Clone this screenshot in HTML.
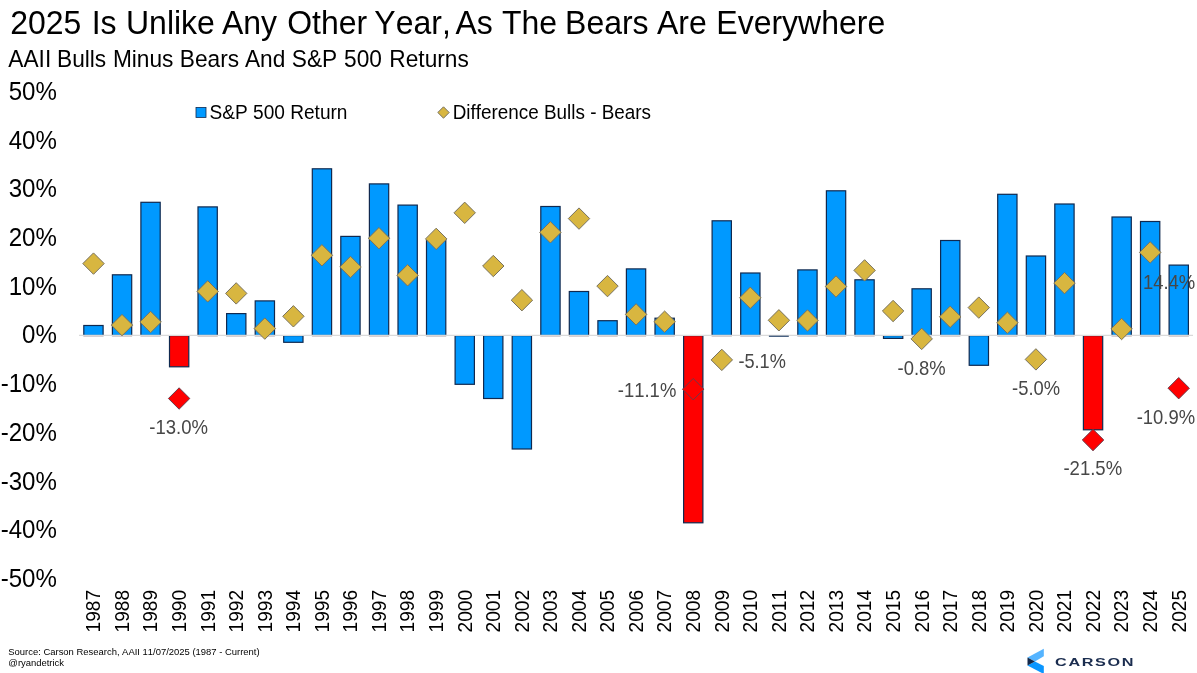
<!DOCTYPE html>
<html><head><meta charset="utf-8"><title>2025 Is Unlike Any Other Year</title>
<style>
html,body{margin:0;padding:0;background:#fff;}
body{width:1197px;height:673px;overflow:hidden;font-family:"Liberation Sans",Arial,sans-serif;}
svg{display:block}
text{font-family:"Liberation Sans",Arial,sans-serif;font-kerning:none;}
.dl{fill:#474747;font-size:20.2px;}
</style></head><body>
<svg width="1197" height="673" viewBox="0 0 1197 673">
<rect width="1197" height="673" fill="#fff"/>
<text transform="translate(0,33.9) scale(1,1.05)" font-size="32.0" fill="#000" style="white-space:pre"><tspan x="10.2" y="0">2025 </tspan><tspan x="91.65" y="0">Is </tspan><tspan x="126.02" y="0">Unlike </tspan><tspan x="221.94" y="0">Any </tspan><tspan x="287.13" y="0">Other </tspan><tspan x="374.33" y="0">Year, </tspan><tspan x="455.39" y="0">As </tspan><tspan x="501.9" y="0">The </tspan><tspan x="565.05" y="0">Bears </tspan><tspan x="657.04" y="0">Are </tspan><tspan x="716.35" y="0">Everywhere</tspan></text>
<text transform="translate(0,66.6) scale(1,1.05)" font-size="22.7" fill="#000" style="white-space:pre"><tspan x="8.34" y="0">AAII </tspan><tspan x="57.0" y="0">Bulls </tspan><tspan x="112.91" y="0">Minus </tspan><tspan x="179.83" y="0">Bears </tspan><tspan x="244.98" y="0">And </tspan><tspan x="291.77" y="0">S&amp;P </tspan><tspan x="344.07" y="0">500 </tspan><tspan x="389.33" y="0">Returns</tspan></text>
<text transform="translate(56.9,99.9) scale(1,1.085)" font-size="24.1" text-anchor="end" fill="#000">50%</text>
<text transform="translate(56.9,148.6) scale(1,1.085)" font-size="24.1" text-anchor="end" fill="#000">40%</text>
<text transform="translate(56.9,197.3) scale(1,1.085)" font-size="24.1" text-anchor="end" fill="#000">30%</text>
<text transform="translate(56.9,246.0) scale(1,1.085)" font-size="24.1" text-anchor="end" fill="#000">20%</text>
<text transform="translate(56.9,294.7) scale(1,1.085)" font-size="24.1" text-anchor="end" fill="#000">10%</text>
<text transform="translate(56.9,343.4) scale(1,1.085)" font-size="24.1" text-anchor="end" fill="#000">0%</text>
<text transform="translate(56.9,392.1) scale(1,1.085)" font-size="24.1" text-anchor="end" fill="#000">-10%</text>
<text transform="translate(56.9,440.8) scale(1,1.085)" font-size="24.1" text-anchor="end" fill="#000">-20%</text>
<text transform="translate(56.9,489.5) scale(1,1.085)" font-size="24.1" text-anchor="end" fill="#000">-30%</text>
<text transform="translate(56.9,538.2) scale(1,1.085)" font-size="24.1" text-anchor="end" fill="#000">-40%</text>
<text transform="translate(56.9,586.9) scale(1,1.085)" font-size="24.1" text-anchor="end" fill="#000">-50%</text>
<rect x="83.8" y="325.5" width="19.3" height="10.0" fill="#0099ff" stroke="#10294f" stroke-width="1.2"/>
<rect x="112.4" y="274.8" width="19.3" height="60.7" fill="#0099ff" stroke="#10294f" stroke-width="1.2"/>
<rect x="140.9" y="202.3" width="19.3" height="133.2" fill="#0099ff" stroke="#10294f" stroke-width="1.2"/>
<rect x="169.5" y="335.6" width="19.3" height="31.2" fill="#ff0000" stroke="#10294f" stroke-width="1.2"/>
<rect x="198.0" y="206.9" width="19.3" height="128.6" fill="#0099ff" stroke="#10294f" stroke-width="1.2"/>
<rect x="226.6" y="313.6" width="19.3" height="21.9" fill="#0099ff" stroke="#10294f" stroke-width="1.2"/>
<rect x="255.2" y="300.9" width="19.3" height="34.6" fill="#0099ff" stroke="#10294f" stroke-width="1.2"/>
<rect x="283.7" y="335.6" width="19.3" height="6.7" fill="#0099ff" stroke="#10294f" stroke-width="1.2"/>
<rect x="312.3" y="168.8" width="19.3" height="166.7" fill="#0099ff" stroke="#10294f" stroke-width="1.2"/>
<rect x="340.8" y="236.4" width="19.3" height="99.1" fill="#0099ff" stroke="#10294f" stroke-width="1.2"/>
<rect x="369.4" y="183.9" width="19.3" height="151.6" fill="#0099ff" stroke="#10294f" stroke-width="1.2"/>
<rect x="398.0" y="205.1" width="19.3" height="130.4" fill="#0099ff" stroke="#10294f" stroke-width="1.2"/>
<rect x="426.5" y="240.0" width="19.3" height="95.5" fill="#0099ff" stroke="#10294f" stroke-width="1.2"/>
<rect x="455.1" y="335.6" width="19.3" height="48.7" fill="#0099ff" stroke="#10294f" stroke-width="1.2"/>
<rect x="483.6" y="335.6" width="19.3" height="62.9" fill="#0099ff" stroke="#10294f" stroke-width="1.2"/>
<rect x="512.2" y="335.6" width="19.3" height="113.4" fill="#0099ff" stroke="#10294f" stroke-width="1.2"/>
<rect x="540.8" y="206.5" width="19.3" height="129.0" fill="#0099ff" stroke="#10294f" stroke-width="1.2"/>
<rect x="569.3" y="291.5" width="19.3" height="44.0" fill="#0099ff" stroke="#10294f" stroke-width="1.2"/>
<rect x="597.9" y="320.7" width="19.3" height="14.8" fill="#0099ff" stroke="#10294f" stroke-width="1.2"/>
<rect x="626.4" y="268.9" width="19.3" height="66.6" fill="#0099ff" stroke="#10294f" stroke-width="1.2"/>
<rect x="655.0" y="318.2" width="19.3" height="17.3" fill="#0099ff" stroke="#10294f" stroke-width="1.2"/>
<rect x="683.6" y="335.6" width="19.3" height="187.2" fill="#ff0000" stroke="#10294f" stroke-width="1.2"/>
<rect x="712.1" y="220.8" width="19.3" height="114.7" fill="#0099ff" stroke="#10294f" stroke-width="1.2"/>
<rect x="740.7" y="273.0" width="19.3" height="62.5" fill="#0099ff" stroke="#10294f" stroke-width="1.2"/>
<rect x="797.8" y="269.9" width="19.3" height="65.6" fill="#0099ff" stroke="#10294f" stroke-width="1.2"/>
<rect x="826.4" y="190.8" width="19.3" height="144.7" fill="#0099ff" stroke="#10294f" stroke-width="1.2"/>
<rect x="854.9" y="279.8" width="19.3" height="55.7" fill="#0099ff" stroke="#10294f" stroke-width="1.2"/>
<rect x="883.5" y="335.6" width="19.3" height="2.8" fill="#0099ff" stroke="#10294f" stroke-width="1.2"/>
<rect x="912.0" y="288.8" width="19.3" height="46.7" fill="#0099ff" stroke="#10294f" stroke-width="1.2"/>
<rect x="940.6" y="240.5" width="19.3" height="95.0" fill="#0099ff" stroke="#10294f" stroke-width="1.2"/>
<rect x="969.2" y="335.6" width="19.3" height="29.7" fill="#0099ff" stroke="#10294f" stroke-width="1.2"/>
<rect x="997.7" y="194.3" width="19.3" height="141.2" fill="#0099ff" stroke="#10294f" stroke-width="1.2"/>
<rect x="1026.3" y="256.0" width="19.3" height="79.5" fill="#0099ff" stroke="#10294f" stroke-width="1.2"/>
<rect x="1054.8" y="204.0" width="19.3" height="131.5" fill="#0099ff" stroke="#10294f" stroke-width="1.2"/>
<rect x="1083.4" y="335.6" width="19.3" height="94.2" fill="#ff0000" stroke="#10294f" stroke-width="1.2"/>
<rect x="1112.0" y="217.0" width="19.3" height="118.5" fill="#0099ff" stroke="#10294f" stroke-width="1.2"/>
<rect x="1140.5" y="221.5" width="19.3" height="114.0" fill="#0099ff" stroke="#10294f" stroke-width="1.2"/>
<rect x="1169.1" y="265.1" width="19.3" height="70.4" fill="#0099ff" stroke="#10294f" stroke-width="1.2"/>
<line x1="79" x2="1193" y1="335.3" y2="335.3" stroke="#dadada" stroke-width="1.25"/>
<rect x="768.9" y="335.6" width="19.900000000000002" height="1.4" fill="#4a6282"/>
<rect x="83.5" y="335.9" width="19.900000000000002" height="0.8" fill="#cdc4c6"/>
<rect x="112.1" y="335.9" width="19.900000000000002" height="0.8" fill="#cdc4c6"/>
<rect x="140.6" y="335.9" width="19.900000000000002" height="0.8" fill="#cdc4c6"/>
<rect x="197.7" y="335.9" width="19.900000000000002" height="0.8" fill="#cdc4c6"/>
<rect x="226.3" y="335.9" width="19.900000000000002" height="0.8" fill="#cdc4c6"/>
<rect x="254.9" y="335.9" width="19.900000000000002" height="0.8" fill="#cdc4c6"/>
<rect x="312.0" y="335.9" width="19.900000000000002" height="0.8" fill="#cdc4c6"/>
<rect x="340.5" y="335.9" width="19.900000000000002" height="0.8" fill="#cdc4c6"/>
<rect x="369.1" y="335.9" width="19.900000000000002" height="0.8" fill="#cdc4c6"/>
<rect x="397.7" y="335.9" width="19.900000000000002" height="0.8" fill="#cdc4c6"/>
<rect x="426.2" y="335.9" width="19.900000000000002" height="0.8" fill="#cdc4c6"/>
<rect x="540.5" y="335.9" width="19.900000000000002" height="0.8" fill="#cdc4c6"/>
<rect x="569.0" y="335.9" width="19.900000000000002" height="0.8" fill="#cdc4c6"/>
<rect x="597.6" y="335.9" width="19.900000000000002" height="0.8" fill="#cdc4c6"/>
<rect x="626.1" y="335.9" width="19.900000000000002" height="0.8" fill="#cdc4c6"/>
<rect x="654.7" y="335.9" width="19.900000000000002" height="0.8" fill="#cdc4c6"/>
<rect x="711.8" y="335.9" width="19.900000000000002" height="0.8" fill="#cdc4c6"/>
<rect x="740.4" y="335.9" width="19.900000000000002" height="0.8" fill="#cdc4c6"/>
<rect x="797.5" y="335.9" width="19.900000000000002" height="0.8" fill="#cdc4c6"/>
<rect x="826.1" y="335.9" width="19.900000000000002" height="0.8" fill="#cdc4c6"/>
<rect x="854.6" y="335.9" width="19.900000000000002" height="0.8" fill="#cdc4c6"/>
<rect x="911.7" y="335.9" width="19.900000000000002" height="0.8" fill="#cdc4c6"/>
<rect x="940.3" y="335.9" width="19.900000000000002" height="0.8" fill="#cdc4c6"/>
<rect x="997.4" y="335.9" width="19.900000000000002" height="0.8" fill="#cdc4c6"/>
<rect x="1026.0" y="335.9" width="19.900000000000002" height="0.8" fill="#cdc4c6"/>
<rect x="1054.5" y="335.9" width="19.900000000000002" height="0.8" fill="#cdc4c6"/>
<rect x="1111.7" y="335.9" width="19.900000000000002" height="0.8" fill="#cdc4c6"/>
<rect x="1140.2" y="335.9" width="19.900000000000002" height="0.8" fill="#cdc4c6"/>
<rect x="1168.8" y="335.9" width="19.900000000000002" height="0.8" fill="#cdc4c6"/>
<path d="M93.5 252.9L104.2 263.6L93.5 274.3L82.8 263.6Z" fill="#d8b640" stroke="#78725f" stroke-width="1"/>
<path d="M122.0 314.4L132.7 325.1L122.0 335.8L111.3 325.1Z" fill="#d8b640" stroke="#78725f" stroke-width="1"/>
<path d="M150.6 311.3L161.3 322.0L150.6 332.7L139.9 322.0Z" fill="#d8b640" stroke="#78725f" stroke-width="1"/>
<path d="M179.1 387.8L189.8 398.5L179.1 409.2L168.4 398.5Z" fill="#ff0000" stroke="#6b3a4a" stroke-width="1"/>
<path d="M207.7 280.7L218.4 291.4L207.7 302.1L197.0 291.4Z" fill="#d8b640" stroke="#78725f" stroke-width="1"/>
<path d="M236.2 282.7L246.9 293.4L236.2 304.1L225.6 293.4Z" fill="#d8b640" stroke="#78725f" stroke-width="1"/>
<path d="M264.8 317.9L275.5 328.6L264.8 339.3L254.1 328.6Z" fill="#d8b640" stroke="#78725f" stroke-width="1"/>
<path d="M293.4 305.6L304.1 316.3L293.4 327.0L282.7 316.3Z" fill="#d8b640" stroke="#78725f" stroke-width="1"/>
<path d="M321.9 244.6L332.6 255.3L321.9 266.0L311.2 255.3Z" fill="#d8b640" stroke="#78725f" stroke-width="1"/>
<path d="M350.5 256.3L361.2 267.0L350.5 277.7L339.8 267.0Z" fill="#d8b640" stroke="#78725f" stroke-width="1"/>
<path d="M379.0 227.5L389.7 238.2L379.0 248.9L368.3 238.2Z" fill="#d8b640" stroke="#78725f" stroke-width="1"/>
<path d="M407.6 264.6L418.3 275.3L407.6 286.0L396.9 275.3Z" fill="#d8b640" stroke="#78725f" stroke-width="1"/>
<path d="M436.2 228.2L446.9 238.9L436.2 249.6L425.5 238.9Z" fill="#d8b640" stroke="#78725f" stroke-width="1"/>
<path d="M464.7 202.1L475.4 212.8L464.7 223.5L454.0 212.8Z" fill="#d8b640" stroke="#78725f" stroke-width="1"/>
<path d="M493.3 255.3L504.0 266.0L493.3 276.7L482.6 266.0Z" fill="#d8b640" stroke="#78725f" stroke-width="1"/>
<path d="M521.9 289.5L532.6 300.2L521.9 310.9L511.2 300.2Z" fill="#d8b640" stroke="#78725f" stroke-width="1"/>
<path d="M550.4 221.6L561.1 232.3L550.4 243.0L539.7 232.3Z" fill="#d8b640" stroke="#78725f" stroke-width="1"/>
<path d="M579.0 207.9L589.7 218.6L579.0 229.3L568.3 218.6Z" fill="#d8b640" stroke="#78725f" stroke-width="1"/>
<path d="M607.5 275.4L618.2 286.1L607.5 296.8L596.8 286.1Z" fill="#d8b640" stroke="#78725f" stroke-width="1"/>
<path d="M636.1 303.7L646.8 314.4L636.1 325.1L625.4 314.4Z" fill="#d8b640" stroke="#78725f" stroke-width="1"/>
<path d="M664.6 311.0L675.4 321.7L664.6 332.4L653.9 321.7Z" fill="#d8b640" stroke="#78725f" stroke-width="1"/>
<path d="M693.2 378.5L703.9 389.2L693.2 399.9L682.5 389.2Z" fill="#ff0000" stroke="#6b3a4a" stroke-width="1"/>
<path d="M721.8 349.2L732.5 359.9L721.8 370.6L711.1 359.9Z" fill="#d8b640" stroke="#78725f" stroke-width="1"/>
<path d="M750.3 287.1L761.0 297.8L750.3 308.5L739.6 297.8Z" fill="#d8b640" stroke="#78725f" stroke-width="1"/>
<path d="M778.9 309.6L789.6 320.3L778.9 331.0L768.2 320.3Z" fill="#d8b640" stroke="#78725f" stroke-width="1"/>
<path d="M807.5 309.8L818.2 320.5L807.5 331.2L796.8 320.5Z" fill="#d8b640" stroke="#78725f" stroke-width="1"/>
<path d="M836.0 275.8L846.7 286.5L836.0 297.2L825.3 286.5Z" fill="#d8b640" stroke="#78725f" stroke-width="1"/>
<path d="M864.6 259.7L875.3 270.4L864.6 281.1L853.9 270.4Z" fill="#d8b640" stroke="#78725f" stroke-width="1"/>
<path d="M893.1 300.3L903.8 311.0L893.1 321.7L882.4 311.0Z" fill="#d8b640" stroke="#78725f" stroke-width="1"/>
<path d="M921.7 328.2L932.4 338.9L921.7 349.6L911.0 338.9Z" fill="#d8b640" stroke="#78725f" stroke-width="1"/>
<path d="M950.2 306.1L961.0 316.8L950.2 327.5L939.5 316.8Z" fill="#d8b640" stroke="#78725f" stroke-width="1"/>
<path d="M978.8 296.9L989.5 307.6L978.8 318.3L968.1 307.6Z" fill="#d8b640" stroke="#78725f" stroke-width="1"/>
<path d="M1007.4 312.0L1018.1 322.7L1007.4 333.4L996.7 322.7Z" fill="#d8b640" stroke="#78725f" stroke-width="1"/>
<path d="M1035.9 348.7L1046.6 359.4L1035.9 370.1L1025.2 359.4Z" fill="#d8b640" stroke="#78725f" stroke-width="1"/>
<path d="M1064.5 272.4L1075.2 283.1L1064.5 293.8L1053.8 283.1Z" fill="#d8b640" stroke="#78725f" stroke-width="1"/>
<path d="M1093.0 429.3L1103.8 440.0L1093.0 450.7L1082.3 440.0Z" fill="#ff0000" stroke="#6b3a4a" stroke-width="1"/>
<path d="M1121.6 318.3L1132.3 329.0L1121.6 339.7L1110.9 329.0Z" fill="#d8b640" stroke="#78725f" stroke-width="1"/>
<path d="M1150.2 241.7L1160.9 252.4L1150.2 263.1L1139.5 252.4Z" fill="#d8b640" stroke="#78725f" stroke-width="1"/>
<path d="M1178.7 377.5L1189.4 388.2L1178.7 398.9L1168.0 388.2Z" fill="#ff0000" stroke="#6b3a4a" stroke-width="1"/>
<text class="dl" x="149.3" y="434.2" textLength="58.7" lengthAdjust="spacingAndGlyphs">-13.0%</text>
<text class="dl" x="617.8" y="397.1" textLength="58.5" lengthAdjust="spacingAndGlyphs">-11.1%</text>
<text class="dl" x="738.4" y="367.6" textLength="47.5" lengthAdjust="spacingAndGlyphs">-5.1%</text>
<text class="dl" x="897.6" y="374.8" textLength="48.1" lengthAdjust="spacingAndGlyphs">-0.8%</text>
<text class="dl" x="1012.1" y="394.8" textLength="48.0" lengthAdjust="spacingAndGlyphs">-5.0%</text>
<text class="dl" x="1063.4" y="475.3" textLength="58.8" lengthAdjust="spacingAndGlyphs">-21.5%</text>
<text class="dl" x="1136.7" y="423.7" textLength="58.4" lengthAdjust="spacingAndGlyphs">-10.9%</text>
<text class="dl" x="1142.9" y="289.0" textLength="52.4" lengthAdjust="spacingAndGlyphs">14.4%</text>
<text transform="translate(100.2,632.4) rotate(-90) scale(1,1.08)" font-size="19.1" fill="#000">1987</text>
<text transform="translate(128.8,632.4) rotate(-90) scale(1,1.08)" font-size="19.1" fill="#000">1988</text>
<text transform="translate(157.4,632.4) rotate(-90) scale(1,1.08)" font-size="19.1" fill="#000">1989</text>
<text transform="translate(185.9,632.4) rotate(-90) scale(1,1.08)" font-size="19.1" fill="#000">1990</text>
<text transform="translate(214.5,632.4) rotate(-90) scale(1,1.08)" font-size="19.1" fill="#000">1991</text>
<text transform="translate(243.1,632.4) rotate(-90) scale(1,1.08)" font-size="19.1" fill="#000">1992</text>
<text transform="translate(271.6,632.4) rotate(-90) scale(1,1.08)" font-size="19.1" fill="#000">1993</text>
<text transform="translate(300.2,632.4) rotate(-90) scale(1,1.08)" font-size="19.1" fill="#000">1994</text>
<text transform="translate(328.7,632.4) rotate(-90) scale(1,1.08)" font-size="19.1" fill="#000">1995</text>
<text transform="translate(357.3,632.4) rotate(-90) scale(1,1.08)" font-size="19.1" fill="#000">1996</text>
<text transform="translate(385.8,632.4) rotate(-90) scale(1,1.08)" font-size="19.1" fill="#000">1997</text>
<text transform="translate(414.4,632.4) rotate(-90) scale(1,1.08)" font-size="19.1" fill="#000">1998</text>
<text transform="translate(443.0,632.4) rotate(-90) scale(1,1.08)" font-size="19.1" fill="#000">1999</text>
<text transform="translate(471.5,632.4) rotate(-90) scale(1,1.08)" font-size="19.1" fill="#000">2000</text>
<text transform="translate(500.1,632.4) rotate(-90) scale(1,1.08)" font-size="19.1" fill="#000">2001</text>
<text transform="translate(528.6,632.4) rotate(-90) scale(1,1.08)" font-size="19.1" fill="#000">2002</text>
<text transform="translate(557.2,632.4) rotate(-90) scale(1,1.08)" font-size="19.1" fill="#000">2003</text>
<text transform="translate(585.8,632.4) rotate(-90) scale(1,1.08)" font-size="19.1" fill="#000">2004</text>
<text transform="translate(614.3,632.4) rotate(-90) scale(1,1.08)" font-size="19.1" fill="#000">2005</text>
<text transform="translate(642.9,632.4) rotate(-90) scale(1,1.08)" font-size="19.1" fill="#000">2006</text>
<text transform="translate(671.4,632.4) rotate(-90) scale(1,1.08)" font-size="19.1" fill="#000">2007</text>
<text transform="translate(700.0,632.4) rotate(-90) scale(1,1.08)" font-size="19.1" fill="#000">2008</text>
<text transform="translate(728.6,632.4) rotate(-90) scale(1,1.08)" font-size="19.1" fill="#000">2009</text>
<text transform="translate(757.1,632.4) rotate(-90) scale(1,1.08)" font-size="19.1" fill="#000">2010</text>
<text transform="translate(785.7,632.4) rotate(-90) scale(1,1.08)" font-size="19.1" fill="#000">2011</text>
<text transform="translate(814.2,632.4) rotate(-90) scale(1,1.08)" font-size="19.1" fill="#000">2012</text>
<text transform="translate(842.8,632.4) rotate(-90) scale(1,1.08)" font-size="19.1" fill="#000">2013</text>
<text transform="translate(871.4,632.4) rotate(-90) scale(1,1.08)" font-size="19.1" fill="#000">2014</text>
<text transform="translate(899.9,632.4) rotate(-90) scale(1,1.08)" font-size="19.1" fill="#000">2015</text>
<text transform="translate(928.5,632.4) rotate(-90) scale(1,1.08)" font-size="19.1" fill="#000">2016</text>
<text transform="translate(957.0,632.4) rotate(-90) scale(1,1.08)" font-size="19.1" fill="#000">2017</text>
<text transform="translate(985.6,632.4) rotate(-90) scale(1,1.08)" font-size="19.1" fill="#000">2018</text>
<text transform="translate(1014.2,632.4) rotate(-90) scale(1,1.08)" font-size="19.1" fill="#000">2019</text>
<text transform="translate(1042.7,632.4) rotate(-90) scale(1,1.08)" font-size="19.1" fill="#000">2020</text>
<text transform="translate(1071.3,632.4) rotate(-90) scale(1,1.08)" font-size="19.1" fill="#000">2021</text>
<text transform="translate(1099.8,632.4) rotate(-90) scale(1,1.08)" font-size="19.1" fill="#000">2022</text>
<text transform="translate(1128.4,632.4) rotate(-90) scale(1,1.08)" font-size="19.1" fill="#000">2023</text>
<text transform="translate(1157.0,632.4) rotate(-90) scale(1,1.08)" font-size="19.1" fill="#000">2024</text>
<text transform="translate(1185.5,632.4) rotate(-90) scale(1,1.08)" font-size="19.1" fill="#000">2025</text>
<rect x="196" y="107.4" width="10" height="10" fill="#0099ff" stroke="#10294f" stroke-width="0.8"/>
<text transform="translate(209.5,118.5) scale(1,1.05)" font-size="19.1" fill="#000">S&amp;P 500 Return</text>
<path d="M443.5 106.8L449.2 112.5L443.5 118.2L437.8 112.5Z" fill="#d8b640" stroke="#777263" stroke-width="1"/>
<text transform="translate(452.7,118.5) scale(1,1.05)" font-size="18.9" fill="#000">Difference Bulls - Bears</text>
<text x="8.3" y="654.7" font-size="9.45" fill="#000">Source: Carson Research, AAII 11/07/2025 (1987 - Current)</text>
<text x="8.3" y="665.7" font-size="9.45" fill="#000">@ryandetrick</text>
<g id="logo"><path d="M1043.8 648.7L1027.5 657.4L1034.9 661.4L1043.8 656.3Z" fill="#55b4ff"/><path d="M1034.9 661.4L1043.8 666.1L1043.8 674L1027.5 665.5Z" fill="#0a96ff"/><path d="M1027.5 657.4L1034.9 661.4L1027.5 665.5Z" fill="#12284a"/></g>
<text transform="translate(1055.1,665.5) scale(1.4,1)" font-size="11.6" font-weight="bold" fill="#1b2d4f" letter-spacing="1.15">CARSON</text>
</svg></body></html>
